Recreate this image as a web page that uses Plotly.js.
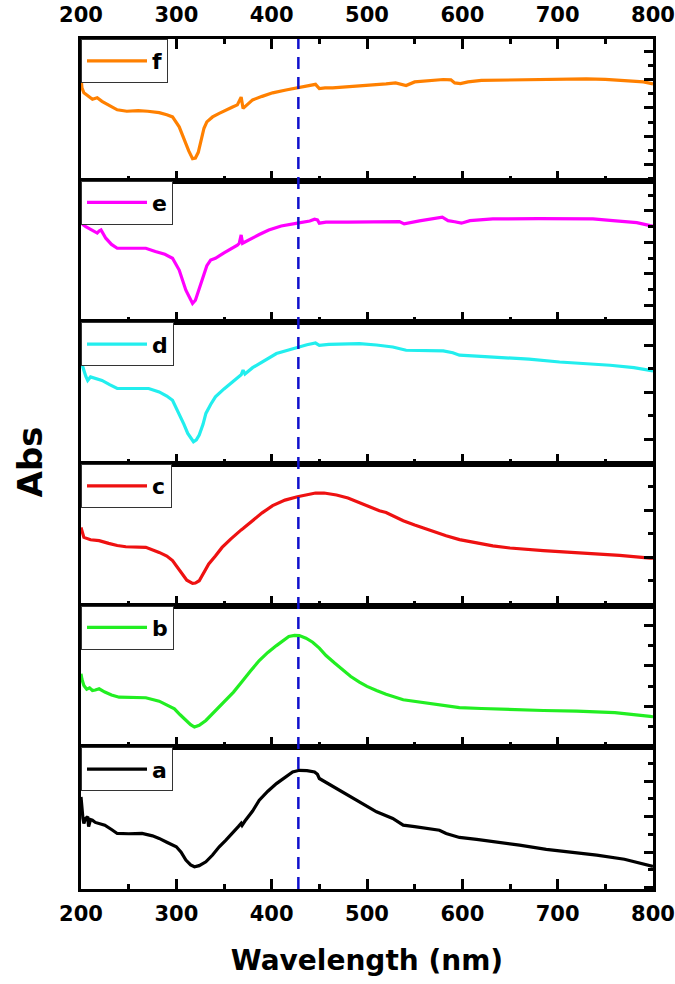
<!DOCTYPE html>
<html>
<head>
<meta charset="utf-8">
<script src="https://cdn.plot.ly/plotly-3.0.1.min.js"></script>
<style>html,body{margin:0;padding:0;background:#fff;}#chart{width:675px;height:984px;}</style>
</head>
<body>
<div id="chart"></div>
<script>
// ---- data (absorbance, arbitrary units) ----
const seriesNames = ['a','b','c','d','e','f'];
const seriesColors = ['#000000','#22EE22','#EE1111','#22EEEE','#FF00FF','#FF8000'];

const wl_a = [200,200.5,201,202,203,205,207,208,210,212,215,219,225,232,238,250,264,275,282,290,300,305,310,315,319,324,331,338,345,352,359,365,368,369,372,380,387,396,405,414,422,429,437,445,448,450,460,474,490,510,527,538,550,560,576,583,597,615,636,660,688,715,741,770,794,800];
const abs_a = [0.65,0.60,0.556,0.50,0.463,0.50,0.51,0.44,0.49,0.486,0.47,0.463,0.45,0.42,0.392,0.39,0.392,0.375,0.357,0.33,0.298,0.26,0.204,0.17,0.157,0.165,0.192,0.24,0.298,0.345,0.392,0.44,0.463,0.45,0.48,0.55,0.627,0.69,0.744,0.79,0.826,0.838,0.835,0.826,0.81,0.78,0.74,0.685,0.62,0.545,0.498,0.451,0.44,0.43,0.415,0.392,0.364,0.35,0.333,0.31,0.28,0.26,0.239,0.21,0.169,0.16];

const wl_b = [200,201,203,206,209,212,215,219,225,232,240,250,268,282,290,298,304,310,315,319,324,331,340,352,360,369,371,378,387,396,405,412,418,424,429,436,443,450,457,466,475,483,492,500,510,520,538,560,580,590,597,620,650,685,720,760,797,800];
const abs_b = [0.519,0.48,0.437,0.41,0.42,0.401,0.405,0.413,0.39,0.37,0.354,0.352,0.35,0.326,0.30,0.272,0.23,0.19,0.16,0.143,0.155,0.19,0.25,0.331,0.39,0.465,0.48,0.54,0.613,0.67,0.718,0.755,0.782,0.79,0.789,0.77,0.742,0.70,0.648,0.595,0.542,0.50,0.46,0.43,0.401,0.375,0.336,0.315,0.296,0.29,0.28,0.274,0.265,0.26,0.256,0.245,0.218,0.216];

const wl_c = [200,201,203,210,219,229,238,247,258,268,282,290,296,301,306,311,317,320,324,329,334,341,348,357,366,368,370,380,390,401,414,427,437,446,455,468,480,492,503,513,520,529,538,550,562,572,583,597,615,632,650,668,685,710,737,765,797,800];
const abs_c = [0.552,0.52,0.482,0.465,0.459,0.44,0.425,0.416,0.414,0.412,0.376,0.35,0.318,0.27,0.224,0.18,0.157,0.16,0.176,0.23,0.294,0.35,0.411,0.47,0.529,0.535,0.545,0.60,0.655,0.706,0.745,0.769,0.785,0.795,0.795,0.781,0.76,0.729,0.70,0.67,0.658,0.63,0.60,0.57,0.541,0.515,0.494,0.466,0.442,0.422,0.407,0.395,0.388,0.378,0.369,0.355,0.336,0.335];

const wl_d = [200,201,203,205,207,210,215,222,230,238,250,271,282,290,296,303,308,312,318,321,324,328,331,336,341,350,359,366,368,370,372,380,387,396,405,415,427,437,446,450,460,474,492,510,527,541,560,580,590,597,615,632,670,702,730,755,780,797,800];
const abs_d = [0.73,0.70,0.662,0.62,0.59,0.615,0.604,0.59,0.56,0.533,0.533,0.533,0.509,0.48,0.45,0.357,0.28,0.216,0.157,0.17,0.204,0.28,0.357,0.42,0.474,0.53,0.58,0.62,0.63,0.662,0.635,0.68,0.709,0.745,0.78,0.80,0.826,0.842,0.854,0.838,0.845,0.845,0.85,0.84,0.826,0.803,0.80,0.798,0.785,0.768,0.762,0.756,0.74,0.72,0.71,0.697,0.68,0.66,0.657];

const wl_e = [200,202,205,209,212,215,217,219,221,226,232,238,247,258,268,278,288,296,303,310,315,317,320,323,327,332,336,341,350,359,364,366,368,369.5,376,387,397,410,427,440,445,448,450,457,480,513,534,539,545,555,579,585,592,599,608,632,680,737,758,783,797,800];
const abs_e = [0.735,0.69,0.676,0.66,0.652,0.64,0.63,0.645,0.652,0.594,0.55,0.523,0.523,0.52,0.523,0.50,0.48,0.452,0.369,0.227,0.16,0.133,0.156,0.22,0.298,0.40,0.44,0.452,0.49,0.523,0.545,0.558,0.617,0.558,0.582,0.62,0.652,0.68,0.70,0.715,0.728,0.723,0.70,0.707,0.707,0.71,0.711,0.695,0.705,0.716,0.742,0.718,0.71,0.70,0.718,0.73,0.732,0.73,0.718,0.704,0.683,0.68];

const wl_f = [200,201,203,207,212,217,222,230,238,248,260,270,282,290,296,303,308,313,317,320,323,326,329,332,338,345,352,359,364,366,368,370,375,380,390,401,415,427,437,443,446,450,456,464,480,500,520,530,538,541,550,565,580,588,592,598,606,620,650,700,730,750,775,790,800];
const abs_f = [0.73,0.655,0.62,0.60,0.575,0.585,0.56,0.53,0.50,0.49,0.495,0.49,0.48,0.465,0.45,0.38,0.29,0.21,0.155,0.16,0.2,0.29,0.37,0.415,0.45,0.475,0.5,0.52,0.535,0.57,0.59,0.51,0.54,0.57,0.595,0.62,0.64,0.655,0.668,0.676,0.68,0.65,0.655,0.655,0.662,0.669,0.683,0.69,0.68,0.672,0.697,0.708,0.714,0.712,0.69,0.685,0.697,0.708,0.711,0.718,0.718,0.715,0.704,0.697,0.683];

const markerWavelength = 428;   // dashed reference line (nm)
const xTickValsLabel = [200,300,400,500,600,700,800];

const wls = [wl_a, wl_b, wl_c, wl_d, wl_e, wl_f];
const abss = [abs_a, abs_b, abs_c, abs_d, abs_e, abs_f];

// per-panel right-axis tick layout (style only)
const yTickCfg = [
  {dt:0.25,   t0:0.011, mdt:0.125},
  {dt:2/7,    t0:0.29,  mdt:1/7},
  {dt:1/3,    t0:0.341, mdt:1/6},
  {dt:1/3,    t0:0.173, mdt:1/6},
  {dt:2/9,    t0:0.12,  mdt:1/9},
  {dt:0.2,    t0:0.113, mdt:0.1}
];

const FONT = 'DejaVu Sans, Liberation Sans, Arial, sans-serif';
const traces = [];
const layout = {
  width: 675, height: 984,
  margin: {l: 81, r: 22, t: 39, b: 95},
  paper_bgcolor: '#fff', plot_bgcolor: '#fff',
  font: {family: FONT, color: '#000'},
  shapes: [], annotations: []
};

for (let i = 0; i < 6; i++) {
  const n = i === 0 ? '' : String(i + 1);
  const legName = i === 0 ? 'legend' : 'legend' + (i + 1);
  traces.push({
    x: wls[i], y: abss[i], type: 'scatter', mode: 'lines',
    name: seriesNames[i],
    line: {color: seriesColors[i], width: 3.2},
    xaxis: 'x' + n, yaxis: 'y' + n,
    legend: legName
  });
  layout['xaxis' + n] = {
    domain: [0, 1], anchor: 'y' + n, range: [200, 800],
    showline: true, linewidth: 3, linecolor: '#000', mirror: true,
    ticks: 'inside', ticklen: 10, tickwidth: 3, tickcolor: '#000',
    dtick: 100, tick0: 0,
    minor: {ticks: 'inside', ticklen: 5, tickwidth: 3, tickcolor: '#000', dtick: 50, tick0: 0},
    showgrid: false, zeroline: false,
    showticklabels: i === 0,
    ticklabelstandoff: 4,
    tickfont: {size: 21, weight: 'bold', family: FONT},
    fixedrange: true
  };
  if (i > 0) layout['xaxis' + n].matches = 'x';
  if (i === 0) {
    layout.xaxis.title = {text: 'Wavelength (nm)', font: {size: 28, weight: 'bold', family: FONT}, standoff: 26};
  }
  const c = yTickCfg[i];
  layout['yaxis' + n] = {
    domain: [i / 6, (i + 1) / 6], anchor: 'x' + n, range: [0, 1], side: 'right',
    showline: true, linewidth: 3, linecolor: '#000', mirror: true,
    ticks: 'inside', ticklen: 9, tickwidth: 3, tickcolor: '#000',
    tickmode: 'linear', dtick: c.dt, tick0: c.t0,
    minor: {ticks: 'inside', ticklen: 5, tickwidth: 3, tickcolor: '#000', dtick: c.mdt, tick0: c.t0},
    showticklabels: false, showgrid: false, zeroline: false, fixedrange: true
  };
  layout[legName] = {
    x: 0, xanchor: 'left', y: (i + 1) / 6, yanchor: 'top',
    bgcolor: '#fff', bordercolor: '#333', borderwidth: 1,
    font: {size: 22, weight: 'bold', family: FONT, color: '#000'},
    itemwidth: 60, tracegroupgap: 0
  };
}

// top axis with labels (overlaying the top panel)
layout.xaxis7 = {
  overlaying: 'x6', side: 'top', anchor: 'y6', range: [200, 800],
  showline: true, linewidth: 3, linecolor: '#000',
  ticks: 'inside', ticklen: 10, tickwidth: 3, tickcolor: '#000',
  tickvals: xTickValsLabel,
  minor: {ticks: 'inside', ticklen: 5, tickwidth: 3, tickcolor: '#000', dtick: 50, tick0: 0},
  showgrid: false, zeroline: false, ticklabelstandoff: 6,
  tickfont: {size: 21, weight: 'bold', family: FONT}, fixedrange: true
};
traces.push({x: [200, 800], y: [null, null], xaxis: 'x7', yaxis: 'y6', mode: 'lines', showlegend: false, hoverinfo: 'skip'});

layout.shapes.push({
  type: 'line', xref: 'x', yref: 'paper', x0: markerWavelength, x1: markerWavelength, y0: 0, y1: 1,
  line: {color: '#1010CC', width: 2.5, dash: '12px,8px'}, layer: 'above'
});

layout.annotations.push({
  xref: 'paper', yref: 'paper', x: -0.089, y: 0.502, text: 'Abs', showarrow: false,
  textangle: -90, font: {size: 34, weight: 'bold', family: FONT}, xanchor: 'center', yanchor: 'middle'
});

Plotly.newPlot('chart', traces, layout, {displayModeBar: false, staticPlot: true});
</script>
</body>
</html>
